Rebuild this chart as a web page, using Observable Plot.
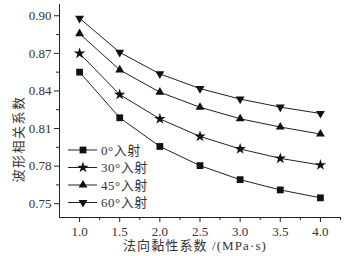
<!DOCTYPE html>
<html><head><meta charset="utf-8">
<script src="https://cdn.jsdelivr.net/npm/d3@7"></script>
<script src="https://cdn.jsdelivr.net/npm/@observablehq/plot@0.6"></script>
<style>
body{margin:0;background:#fff}
#chart svg{overflow:visible}
</style>
</head><body><div id="chart"></div>
<script>
const viscosity = [1.0, 1.5, 2.0, 2.5, 3.0, 3.5, 4.0];
const seriesNames = ["0°入射", "30°入射", "45°入射", "60°入射"];
const coef0  = [0.855, 0.8186, 0.7957, 0.7804, 0.7692, 0.7610, 0.7547];
const coef30 = [0.870, 0.8371, 0.8177, 0.8037, 0.7937, 0.7862, 0.7809];
const coef45 = [0.8857, 0.8568, 0.8390, 0.8270, 0.8178, 0.8112, 0.8056];
const coef60 = [0.8980, 0.8708, 0.8536, 0.8419, 0.8335, 0.8271, 0.8220];
const xTicks = [1.0, 1.5, 2.0, 2.5, 3.0, 3.5, 4.0];
const xMinorTicks = [1.25, 1.75, 2.25, 2.75, 3.25, 3.75, 4.25];
const yTicks = [0.75, 0.78, 0.81, 0.84, 0.87, 0.90];
const yMinorTicks = [0.765, 0.795, 0.825, 0.855, 0.885];
const xDomain = [0.75, 4.25];
const yDomain = [0.739, 0.909];
const xLabel = "法向黏性系数 /(MPa·s)";
const yLabel = "波形相关系数";

const triangleDown = {
  draw(context, size) {
    const y = -Math.sqrt(size / (Math.sqrt(3) * 3));
    context.moveTo(0, -y * 2);
    context.lineTo(-Math.sqrt(3) * y, y);
    context.lineTo(Math.sqrt(3) * y, y);
    context.closePath();
  }
};
const symbols = [d3.symbolSquare, d3.symbolStar, d3.symbolTriangle, triangleDown];
const symSizes = [46, 40, 34, 34];
const allCoefs = [coef0, coef30, coef45, coef60];
const rows = allCoefs.flatMap((arr, i) => arr.map((v, j) => ({series: seriesNames[i], idx: i, x: viscosity[j], y: v})));

const FONT = "'Liberation Serif','Times New Roman','Noto Sans CJK SC',serif";
const INK = "#222";

const plot = Plot.plot({
  width: 357,
  height: 256,
  marginLeft: 59,
  marginRight: 17,
  marginTop: 4,
  marginBottom: 39,
  style: {fontFamily: FONT, fontSize: "13px", color: "#333", background: "transparent"},
  x: {domain: xDomain},
  y: {domain: yDomain},
  marks: [
    Plot.ruleX([xDomain[0]], {stroke: INK, strokeWidth: 1}),
    Plot.ruleY([yDomain[0]], {stroke: INK, strokeWidth: 1}),
    Plot.axisX({ticks: xTicks, tickSize: 5, tickPadding: 4, tickFormat: d3.format(".1f"), label: null, stroke: INK}),
    Plot.axisX({ticks: xMinorTicks, tickSize: 3, tickFormat: () => "", label: null, stroke: INK}),
    Plot.axisY({ticks: yTicks, tickSize: 5, tickPadding: 3, tickFormat: d3.format(".2f"), label: null, stroke: INK}),
    Plot.axisY({ticks: yMinorTicks, tickSize: 3, tickFormat: () => "", label: null, stroke: INK}),
    Plot.line(rows, {x: "x", y: "y", z: "series", stroke: INK, strokeWidth: 1}),
    ...symbols.map((s, i) => Plot.dot(rows.filter(d => d.idx === i), {x: "x", y: "y", symbol: s, r: Math.sqrt(symSizes[i] / Math.PI), fill: "#111", stroke: "none"}))
  ]
});
document.getElementById("chart").appendChild(plot);

const svg = d3.select(plot);
// axis titles
svg.append("text").attr("transform", "translate(18,139) rotate(-90)")
  .attr("text-anchor", "middle").attr("dy", "0.35em").attr("fill", "#333")
  .style("font-family", FONT).style("font-size", "13px").style("letter-spacing", "1.5px").text(yLabel);
svg.append("text").attr("x", 195).attr("y", 245)
  .attr("text-anchor", "middle").attr("dy", "0.35em").attr("fill", "#333")
  .style("font-family", FONT).style("font-size", "13px").style("letter-spacing", "1.1px").text(xLabel);

// legend inside plot
const lg = svg.append("g").attr("transform", "translate(68,150)");
seriesNames.forEach((name, i) => {
  const g = lg.append("g").attr("transform", `translate(0,${i * 17.5})`);
  g.append("line").attr("x1", 0).attr("x2", 29).attr("y1", 0).attr("y2", 0).attr("stroke", INK);
  g.append("path").attr("transform", "translate(15,0)").attr("d", d3.symbol(symbols[i], symSizes[i])()).attr("fill", "#111");
  g.append("text").attr("x", 33).attr("y", 0).attr("dy", "0.35em").attr("fill", "#333").attr("text-anchor", "start")
    .style("font-family", FONT).style("font-size", "13px").style("letter-spacing", "0.5px").text(name);
});
</script>
</body></html>
